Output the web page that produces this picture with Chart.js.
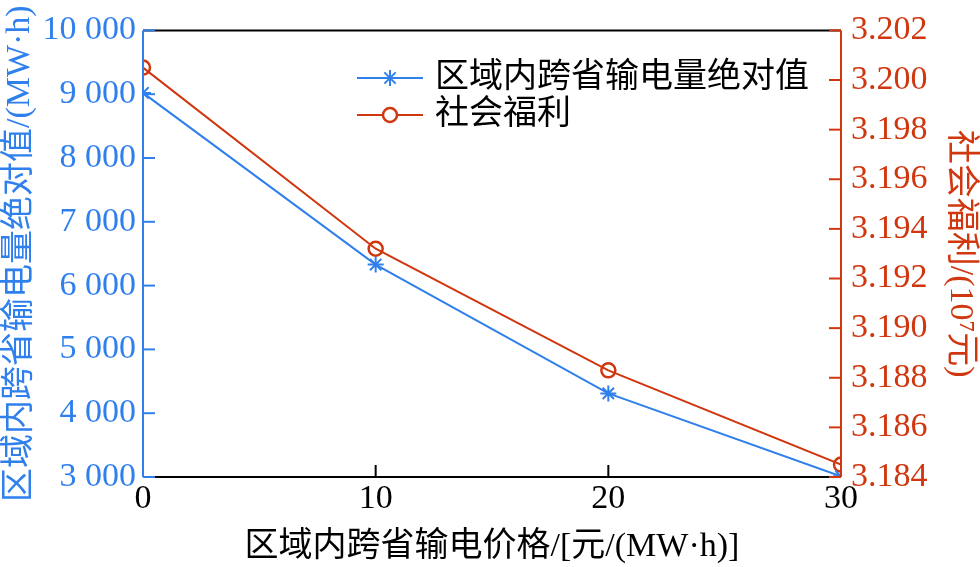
<!DOCTYPE html>
<html><head><meta charset="utf-8">
<script src="https://cdn.jsdelivr.net/npm/chart.js@4"></script>
<style>html,body{margin:0;padding:0;background:#fff;}#wrap{width:980px;height:567px;}</style>
</head><body><div id="wrap"><canvas id="c" width="980" height="567"></canvas></div>
<script>
const categories = [0, 10, 20, 30];
const transferValues = [9020, 6330, 4310, 3010];
const welfareValues = [3.2005, 3.1932, 3.1883, 3.1845];
const seriesLabels = ['区域内跨省输电量绝对值', '社会福利'];
const xTitle = '区域内跨省输电价格/[元/(MW·h)]';
const yLeftTitle = '区域内跨省输电量绝对值/(MW·h)';
const yRightTitle = '社会福利/(10⁷元)';

const BLUE = '#2f80ed';
const RED = '#d1370f';
const FONT = "'Liberation Serif', 'Noto Sans CJK SC', serif";

function fmtThousand(v){
  const s = Math.round(v).toString();
  return s.replace(/\B(?=(\d{3})+(?!\d))/g, ' ');
}

const framePlugin = {
  id: 'frame',
  afterDatasetsDraw(chart){
    const {ctx, chartArea:a, scales} = chart;
    ctx.save();
    ctx.lineWidth = 2;
    ctx.strokeStyle = '#000';
    ctx.beginPath();
    ctx.moveTo(a.left, a.top); ctx.lineTo(a.right, a.top);
    ctx.moveTo(a.left, a.bottom); ctx.lineTo(a.right, a.bottom);
    ctx.stroke();
    scales.x.ticks.forEach((t,i)=>{
      const px = scales.x.getPixelForTick(i);
      ctx.beginPath(); ctx.moveTo(px, a.bottom); ctx.lineTo(px, a.bottom-12); ctx.stroke();
    });
    ctx.strokeStyle = BLUE;
    ctx.beginPath(); ctx.moveTo(a.left, a.top); ctx.lineTo(a.left, a.bottom); ctx.stroke();
    scales.y.ticks.forEach((t,i)=>{
      const py = scales.y.getPixelForTick(i);
      ctx.beginPath(); ctx.moveTo(a.left, py); ctx.lineTo(a.left+12, py); ctx.stroke();
    });
    ctx.strokeStyle = RED;
    ctx.beginPath(); ctx.moveTo(a.right, a.top); ctx.lineTo(a.right, a.bottom); ctx.stroke();
    scales.y1.ticks.forEach((t,i)=>{
      const py = scales.y1.getPixelForTick(i);
      ctx.beginPath(); ctx.moveTo(a.right, py); ctx.lineTo(a.right-12, py); ctx.stroke();
    });
    ctx.restore();
  },
  afterDraw(chart){
    const ctx = chart.ctx;
    ctx.save();
    const rows = [78, 115];
    chart.data.datasets.forEach((ds, i)=>{
      const y = rows[i];
      ctx.strokeStyle = ds.borderColor; ctx.lineWidth = 2;
      ctx.beginPath(); ctx.moveTo(357, y); ctx.lineTo(423, y); ctx.stroke();
      ctx.strokeStyle = ds.pointBorderColor; ctx.fillStyle = '#fff';
      ctx.lineWidth = ds.pointBorderWidth;
      Chart.helpers.drawPoint(ctx, {pointStyle: ds.pointStyle, radius: ds.pointRadius, borderWidth: ds.pointBorderWidth, rotation: 0}, 390, y);
      ctx.fillStyle = '#000';
      ctx.font = "34px " + FONT;
      ctx.textBaseline = 'middle';
      ctx.textAlign = 'left';
      ctx.fillText(ds.label, 435, y);
    });
    ctx.restore();
  }
};

new Chart(document.getElementById('c'), {
  type: 'line',
  data: {
    labels: categories,
    datasets: [
      {label: seriesLabels[0], data: transferValues, yAxisID: 'y', borderColor: BLUE, pointBorderColor: BLUE,
       backgroundColor: BLUE, pointStyle: 'star', pointRadius: 8, pointBorderWidth: 2, borderWidth: 2, tension: 0},
      {label: seriesLabels[1], data: welfareValues, yAxisID: 'y1', borderColor: RED, pointBorderColor: RED,
       backgroundColor: 'rgba(255,255,255,0)', pointBackgroundColor: 'rgba(255,255,255,0)', pointStyle: 'circle', pointRadius: 7, pointBorderWidth: 2.5, borderWidth: 2, tension: 0}
    ]
  },
  options: {
    responsive: false, animation: false, devicePixelRatio: 1,
    layout: {padding: {top: 27, left: 0, right: 0, bottom: 0}},
    plugins: {legend: {display: false}, tooltip: {enabled: false}},
    scales: {
      x: {
        type: 'linear', min: 0, max: 30,
        afterFit(s){ s.height = 90; },
        ticks: {stepSize: 10, color: '#000', font: {family: FONT, size: 34}, padding: 2, maxRotation: 0},
        grid: {display: false, drawTicks: false},
        border: {display: false},
        title: {display: true, text: xTitle, color: '#000', font: {family: FONT, size: 34}, padding: {top: 0, bottom: 0}}
      },
      y: {
        position: 'left', min: 3000, max: 10000,
        afterFit(s){ s.width = 143; },
        ticks: {stepSize: 1000, color: BLUE, font: {family: FONT, size: 34}, padding: 7, callback: v => fmtThousand(v)},
        grid: {display: false, drawTicks: false},
        border: {display: false},
        title: {display: true, text: yLeftTitle, color: BLUE, font: {family: FONT, size: 34}, padding: {top: 0, bottom: 0}}
      },
      y1: {
        position: 'right', min: 3.184, max: 3.202,
        afterFit(s){ s.width = 139; },
        ticks: {stepSize: 0.002, color: RED, font: {family: FONT, size: 34}, padding: 10, callback: v => v.toFixed(3)},
        grid: {display: false, drawTicks: false},
        border: {display: false},
        title: {display: true, text: yRightTitle, color: RED, font: {family: FONT, size: 34}, padding: {top: 0, bottom: 0}}
      }
    }
  },
  plugins: [framePlugin]
});
</script>
</body></html>
